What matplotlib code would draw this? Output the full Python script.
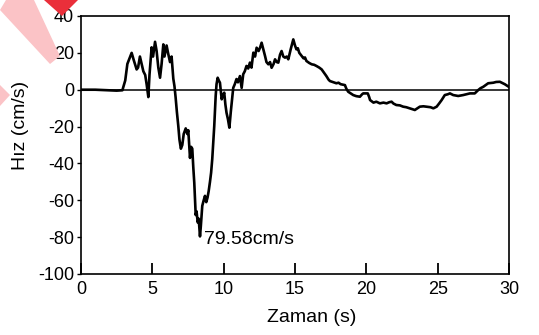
import matplotlib
matplotlib.use("Agg")
import matplotlib.pyplot as plt
from matplotlib.patches import Polygon

plt.rcParams['font.family'] = ['Liberation Sans', 'DejaVu Sans']

time_s = [0, 1, 2, 2.5, 2.9, 3.1, 3.25, 3.4, 3.55, 3.7, 3.9, 4.0, 4.13, 4.25, 4.37, 4.5, 4.6, 4.72, 4.8,
          4.95, 5.05, 5.19, 5.3, 5.42, 5.54, 5.65, 5.77, 5.85, 6.0, 6.1, 6.24, 6.35, 6.47, 6.55, 6.63, 6.72,
          6.82, 6.9, 7.0, 7.1, 7.2, 7.34, 7.45, 7.52, 7.58, 7.64, 7.72, 7.8, 7.87, 7.94, 8.04, 8.1, 8.18,
          8.25, 8.34, 8.4, 8.5, 8.6, 8.69, 8.78, 8.87, 8.95, 9.04, 9.12, 9.2, 9.34, 9.44, 9.5, 9.58, 9.66,
          9.74, 9.8, 9.86, 9.95, 10.04, 10.12, 10.2, 10.3, 10.4, 10.5, 10.58, 10.67, 10.78, 10.9, 11.0,
          11.14, 11.26, 11.37, 11.48, 11.6, 11.72, 11.84, 11.95, 12.08, 12.2, 12.31, 12.45, 12.55, 12.66,
          12.78, 12.9, 13.0, 13.13, 13.25, 13.36, 13.5, 13.6, 13.72, 13.83, 13.95, 14.06, 14.18, 14.3,
          14.42, 14.53, 14.7, 14.88, 15.0, 15.1, 15.2, 15.3, 15.47, 15.6, 15.7, 15.8, 16.0, 16.17, 16.35,
          16.5, 16.7, 16.87, 17.05, 17.2, 17.35, 17.45, 17.7, 17.9, 18.05, 18.2, 18.5, 18.6, 18.73, 18.9,
          19.08, 19.3, 19.55, 19.7, 19.78, 20.1, 20.2, 20.26, 20.5, 20.7, 20.95, 21.2, 21.42, 21.6, 21.77,
          21.9, 22.1, 22.35, 22.58, 22.8, 23.05, 23.2, 23.4, 23.6, 23.75, 24.0, 24.2, 24.5, 24.7, 24.93,
          25.1, 25.28, 25.5, 25.7, 25.86, 26.09, 26.44, 26.79, 27.0, 27.26, 27.6, 27.84, 28.0, 28.2, 28.54,
          28.9, 29.1, 29.36, 29.7, 30]
velocity = [0, 0, -0.3, -0.5, -0.3, 5, 14, 17, 20, 16, 11, 12, 18, 14, 10, 8, 3, -4, 8,
            23, 18, 26, 21, 12, 6.5, 14, 24.6, 18, 24, 20, 15, 18, 6, 2, -4, -12,
            -19.7, -27, -32, -30, -24, -21, -24, -22, -30, -37, -31, -32, -42, -50.5, -68, -66, -72,
            -70, -79.6, -74, -63, -60, -57.6, -61, -58.5, -55, -50, -45, -37.6, -19.7, -3.4, 3, 6.5, 5,
            3.8, -1, -5.2, -3, -1.6, -8, -12.5, -16, -20.6, -12, -6, 1, 3, 5.8, 4,
            7.4, 1, 8.4, 10, 12.9, 11.5, 14.7, 12, 20.1, 18, 22.8, 21, 22.8, 25.5,
            22, 18.3, 15, 13.8, 15, 11.9, 14, 16.5, 15, 14.7, 19, 21, 18, 17.4,
            18, 16.5, 22, 27.3, 24, 21.9, 22.5, 20, 18.3, 17, 17.5, 15.6, 14.5, 13.8, 13.5,
            12.9, 12, 11, 9, 7.4, 5.5, 4.7, 4, 3.5, 3.8, 3, 2.5, 0.5, -1.1, -2,
            -2.9, -3.5, -3.8, -2.5, -2, -2, -4, -5.6, -7, -6.5, -7.4, -7, -7.4, -6.8, -6.5,
            -7.5, -8.3, -8.5, -9.2, -9.5, -10.1, -10.5, -11, -10, -9.2, -9, -9.2, -9.5, -10.1, -9.2,
            -7.5, -5.6, -2.9, -2.5, -2, -2.9, -3.4, -2.9, -2.5, -2, -2, -0.2, 0.8, 1.6, 3.5,
            3.8, 4.2, 4.3, 3, 1.5]

x_ticks = [0, 5, 10, 15, 20, 25, 30]
y_ticks = [40, 20, 0, -20, -40, -60, -80, -100]
peak_label = "79.58cm/s"

W, H = 539, 335
fig = plt.figure(figsize=(W / 100, H / 100), dpi=100)
ax = fig.add_axes([81 / W, 1 - 274 / H, 428 / W, 258 / H])

ax.axhline(0, color='black', lw=1.1, zorder=1)
ax.plot(time_s, velocity, color='black', lw=1.9, zorder=2)

ax.set_xlim(0, 30)
ax.set_ylim(-100, 40)
ax.set_xticks(x_ticks)
ax.set_yticks(y_ticks)
ax.set_xticklabels([str(v) for v in x_ticks])
ax.set_yticklabels([str(v) for v in y_ticks])
ax.tick_params(axis='x', direction='in', length=8, width=1.3, pad=5, labelsize=13)
ax.tick_params(axis='y', direction='out', length=3, width=1.0, pad=2, labelsize=13)
for s in ax.spines.values():
    s.set_linewidth(1.2)

ax.text(8.6, -81.5, peak_label, fontsize=14, va='center', ha='left')

fig.text(312 / W, 1 - 318 / H, "Zaman (s)", fontsize=14, ha='center', va='center')
fig.text(21 / W, 1 - 125 / H, "Hız (cm/s)", fontsize=14, ha='center', va='center', rotation=90)

# watermark fragments in the corner
fig.patches.append(Polygon([[6 / W, 1], [34 / W, 1], [60 / W, 1 - 56 / H], [50 / W, 1 - 64 / H], [0, 1 - 10 / H]],
                           closed=True, transform=fig.transFigure, facecolor='#fbc3c6', edgecolor='none', zorder=0))
fig.patches.append(Polygon([[44 / W, 1], [78 / W, 1], [62 / W, 1 - 16 / H]],
                           closed=True, transform=fig.transFigure, facecolor='#ea2f3a', edgecolor='none', zorder=0))
fig.patches.append(Polygon([[0, 1 - 85 / H], [10 / W, 1 - 95 / H], [0, 1 - 106 / H]],
                           closed=True, transform=fig.transFigure, facecolor='#fbc3c6', edgecolor='none', zorder=0))

fig.savefig("out.png", dpi=100)
